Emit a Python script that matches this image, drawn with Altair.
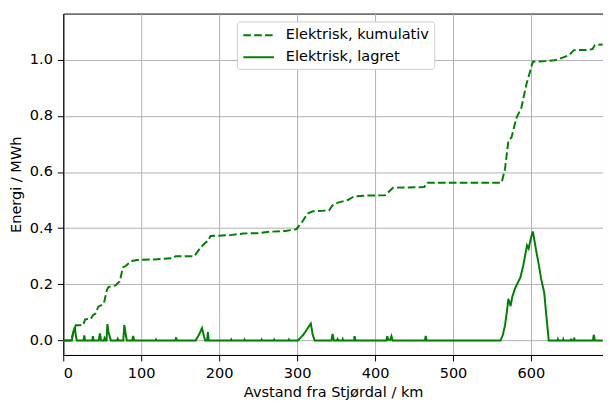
import altair as alt
import pandas as pd

# Cumulative electrical energy (dashed)
cum_km = [0, 10, 13, 16, 25.5, 28, 35.4, 38, 41, 45, 52, 56, 58, 67, 71, 72.5, 76.5, 80, 84, 88, 97,
          120, 141, 144, 168, 176, 182, 185, 189, 215, 231, 250, 265, 285, 299, 306, 313.5, 320,
          341, 345, 349, 365, 373, 390, 412.7, 416, 423, 440, 463, 467, 562.4, 566.7, 571, 575,
          581.4, 587.7, 594, 602.5, 620, 630, 636, 644.7, 649, 655, 674, 679, 682, 692]
cum_val = [0, 0.0, 0.03, 0.054, 0.054, 0.075, 0.077, 0.09, 0.095, 0.12, 0.13, 0.18, 0.19, 0.196, 0.207,
           0.21, 0.26, 0.265, 0.275, 0.283, 0.287, 0.289, 0.293, 0.30, 0.30, 0.33, 0.347, 0.353, 0.372,
           0.375, 0.381, 0.382, 0.387, 0.39, 0.396, 0.42, 0.452, 0.46, 0.463, 0.48, 0.488, 0.5, 0.513,
           0.516, 0.517, 0.525, 0.544, 0.545, 0.546, 0.562, 0.562, 0.611, 0.711, 0.723, 0.793, 0.829,
           0.911, 0.993, 0.995, 0.998, 1.002, 1.012, 1.016, 1.034, 1.035, 1.038, 1.052, 1.054]

# Stored electrical energy (solid)
sto_km = [0, 11, 13, 14.8, 16.5, 17.5, 26, 27, 28, 37, 38, 39, 45.5, 47, 48.5, 52, 53, 54, 55.5, 56.6,
          58, 59.5, 61, 69, 70, 71, 77, 78.3, 80, 81.5, 88.5, 89.6, 91, 118.5, 119, 119.5, 144, 144.8,
          145.5, 170, 175, 178, 180.5, 182, 184.5, 185.6, 186.5, 215, 215.5, 216, 232, 232.5, 233,
          254, 254.5, 255, 270, 270.5, 271, 289, 289.5, 290, 301, 308, 314, 317.6, 320, 322.5, 344,
          345.6, 347, 351, 352, 353, 358, 358.5, 359, 373, 373.7, 375, 414.5, 415.6, 417, 419.5, 421,
          422.5, 464, 465, 466, 561, 564, 566.7, 569, 571, 573.8, 576, 579.3, 583, 586.5, 590, 593,
          595, 597, 600, 602.5, 606, 610, 613, 617, 620, 622.8, 634, 634.5, 635, 641, 641.5, 642, 651,
          651.5, 652, 655, 655.5, 656, 679.5, 680.6, 682, 692]
sto_val = [0, 0, 0.03, 0.048, 0.01, 0, 0, 0.018, 0, 0, 0.015, 0, 0, 0.025, 0, 0, 0.008, 0, 0, 0.058,
           0.03, 0.015, 0, 0, 0.006, 0, 0, 0.055, 0.025, 0, 0, 0.016, 0, 0, 0.003, 0, 0, 0.011,
           0, 0, 0.025, 0.044, 0.015, 0, 0, 0.03, 0, 0, 0.003, 0, 0, 0.003, 0,
           0, 0.003, 0, 0, 0.003, 0, 0, 0.003, 0, 0, 0.02, 0.045, 0.06, 0.02, 0, 0,
           0.023, 0, 0, 0.005, 0, 0, 0.004, 0, 0, 0.015, 0, 0, 0.015, 0.002, 0.002, 0.015,
           0, 0, 0.016, 0, 0, 0.02, 0.054, 0.1, 0.148, 0.122, 0.155, 0.183, 0.205, 0.225, 0.265, 0.31,
           0.338, 0.327, 0.365, 0.388, 0.33, 0.27, 0.22, 0.17, 0.08, 0, 0, 0.004, 0, 0, 0.004, 0, 0,
           0.006, 0, 0, 0.01, 0, 0, 0.02, 0, 0]

series_names = ["Elektrisk, kumulativ", "Elektrisk, lagret"]
x_ticks = [0, 100, 200, 300, 400, 500, 600]
y_ticks = [0.0, 0.2, 0.4, 0.6, 0.8, 1.0]

df = pd.concat([
    pd.DataFrame({"km": cum_km, "val": cum_val, "serie": series_names[0]}),
    pd.DataFrame({"km": sto_km, "val": sto_val, "serie": series_names[1]}),
], ignore_index=True)

FONT = "DejaVu Sans"
FS = 14.7

legend = alt.Legend(title=None, orient="none", legendX=176, legendY=8,
                    symbolType="M-0.94,0H2.94", symbolSize=256, symbolStrokeWidth=2,
                    labelFontSize=FS, labelFont=FONT, labelColor="black",
                    fillColor="white", strokeColor="#cccccc", cornerRadius=3,
                    padding=5, rowPadding=6.3, labelOffset=26.6)

chart = alt.Chart(df).mark_line(strokeWidth=2).encode(
    x=alt.X("km:Q", scale=alt.Scale(domain=[0, 692.4], nice=False, zero=False),
            axis=alt.Axis(values=x_ticks, format="d", title="Avstand fra Stjørdal / km")),
    y=alt.Y("val:Q", scale=alt.Scale(domain=[-0.052, 1.1643], nice=False, zero=False),
            axis=alt.Axis(values=y_ticks, format=".1f", title="Energi / MWh")),
    color=alt.Color("serie:N", scale=alt.Scale(domain=series_names, range=["#008000", "#008000"]),
                    legend=legend),
    strokeDash=alt.StrokeDash("serie:N", scale=alt.Scale(domain=series_names, range=[[7.7, 3.3], [1, 0]]),
                              legend=legend),
).properties(
    width=547, height=346,
    autosize=alt.AutoSizeParams(type="none"),
    padding={"left": 56, "top": 3, "right": 0, "bottom": 46},
).configure_view(
    stroke="black", strokeWidth=1
).configure_axis(
    grid=True, gridColor="#b0b0b0", gridWidth=1,
    domainColor="black", domainWidth=1,
    tickColor="black", tickSize=6, tickWidth=1,
    labelFont=FONT, labelFontSize=FS, labelColor="black",
    titleFont=FONT, titleFontSize=FS, titleColor="black", titleFontWeight="normal",
).configure_axisX(
    labelPadding=5, titlePadding=4,
).configure_axisY(
    labelPadding=5, titlePadding=6,
)

chart.save("out.html", embed_options={"renderer": "svg", "actions": False})
